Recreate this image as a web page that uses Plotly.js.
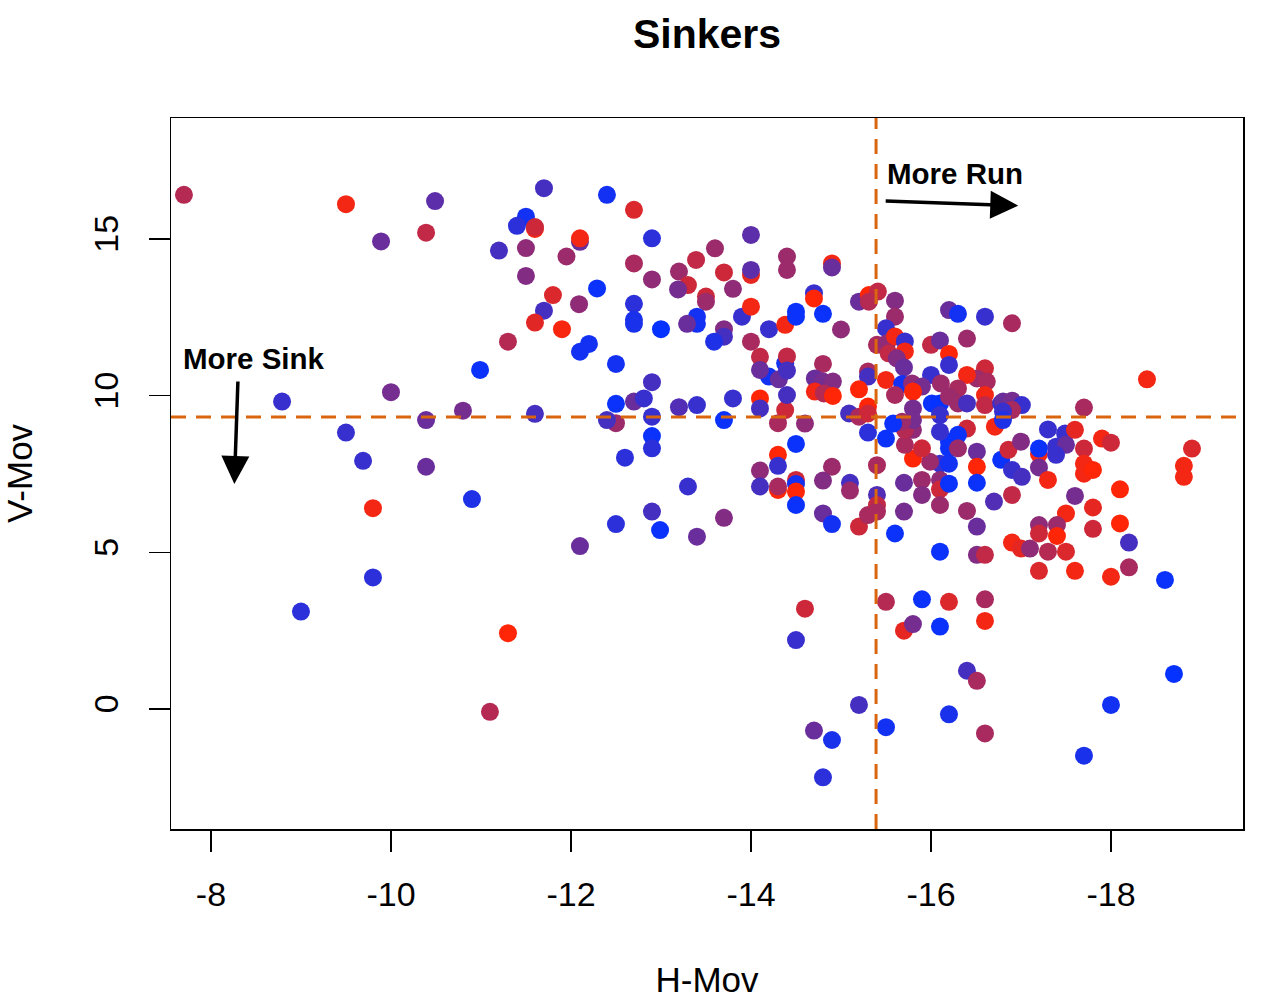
<!DOCTYPE html>
<html>
<head>
<meta charset="utf-8">
<script src="https://cdn.plot.ly/plotly-3.0.1.min.js"></script>
<style>
  html, body { margin: 0; padding: 0; background: #fff; }
  #chart { width: 1276px; height: 1004px; }
</style>
</head>
<body>
<div id="chart"></div>
<script>
// horizontal movement (in)
const hMov = [
  -7.70, -9.50, -10.49, -9.89, -10.39, -11.70, -11.50, -11.40, -11.60, -11.60,
  -11.20, -11.50, -11.95, -11.50, -11.80, -11.70, -11.60, -11.90, -11.30, -10.99,
  -8.79, -10.00, -9.50, -10.39, -10.80, -11.60, -9.69, -10.39, -9.80, -10.90,
  -9.80, -9.00, -11.30, -11.10,
  -12.40, -12.70, -12.10, -12.10, -12.90, -14.00, -13.60, -12.70, -13.39, -14.40,
  -14.40, -12.90, -13.20, -13.70, -14.00, -14.00, -13.30, -13.19, -13.80, -13.50,
  -13.50, -12.29, -12.09, -12.70, -12.70, -12.70, -13.00, -13.40, -13.40, -13.29,
  -13.90, -14.00, -14.20, -14.38, -13.70, -13.70, -13.59, -14.00, -14.10, -12.20,
  -12.10, -12.50, -12.90, -14.20, -14.10, -14.38, -14.31,
  -12.50, -12.70, -12.81, -12.50, -12.40, -12.90, -12.90, -12.90, -12.60, -13.20,
  -13.40, -13.80, -13.70, -14.10, -14.10, -14.30, -14.38, -14.30, -14.30, -14.10,
  -14.10, -14.30, -14.30, -13.30, -12.90, -12.99, -12.50, -12.10, -13.70, -13.40,
  -14.90, -14.90, -14.70, -14.70, -14.50, -14.50, -14.80, -15.00, -15.20, -15.31,
  -15.41, -15.31, -15.60, -15.60, -15.50, -15.40, -15.51, -15.60, -15.71, -15.71,
  -15.53, -15.62, -15.70, -16.20, -16.30, -16.60, -16.90, -16.40, -16.00, -16.10,
  -16.20, -16.20, -16.60, -16.51, -16.40, -16.62, -16.00, -16.11, -16.30, -14.40,
  -14.40, -14.80, -14.71, -14.80, -14.91, -14.71, -14.81, -14.91, -15.30, -15.30,
  -15.20, -15.50, -15.68, -15.79, -15.90, -15.80, -15.60, -14.40, -14.60, -15.09,
  -15.20, -15.30, -15.30, -15.80, -16.01, -16.10, -16.10, -16.20, -16.30, -16.40,
  -16.60, -16.60, -16.78, -16.86, -16.71, -16.40, -16.30, -16.20, -16.20, -16.30,
  -16.10, -16.51, -16.78, -16.86, -16.10, -16.20, -15.99, -16.51, -15.80, -15.90,
  -15.71, -15.80, -15.71, -15.80, -15.68, -15.58, -15.50, -15.30, -14.90, -14.50,
  -15.40,
  -14.50, -14.50, -14.50, -14.50, -14.80, -15.10, -15.10, -14.80, -14.90, -15.20,
  -15.30, -15.40, -15.40, -15.40, -15.60, -15.70, -15.70, -15.90, -15.90, -16.10,
  -16.10, -16.10, -16.20, -16.51, -16.40, -16.51, -16.70, -16.10, -16.51, -16.60,
  -14.60, -14.50, -15.50, -15.90, -16.20, -16.60, -16.60, -15.70, -15.80, -16.10,
  -16.40, -16.51,
  -18.40, -17.70, -16.80, -16.90, -17.01, -16.90, -16.80, -16.80, -17.30, -17.49,
  -17.60, -17.90, -18.00, -18.90, -17.00, -17.20, -17.20, -17.39, -17.50, -17.39,
  -17.70, -16.90, -17.01, -17.20, -17.30, -17.70, -17.70, -17.80, -18.81, -18.81,
  -18.10, -16.90, -17.60, -17.80, -17.50, -18.10, -17.20, -17.40, -17.80, -17.20,
  -17.40, -16.90, -17.00, -17.10, -17.30, -17.50, -18.20, -18.20, -17.20, -17.60,
  -18.00, -18.60, -18.70, -18.00, -17.70,
  -15.20, -14.70, -14.90, -14.80, -15.50, -16.20, -16.60
];

// vertical movement (in)
const vMov = [
  16.41, 16.11, 16.21, 14.92, 15.20, 16.62, 15.71, 15.42, 15.32, 15.38,
  14.63, 14.71, 14.44, 13.82, 13.21, 12.71, 12.33, 12.12, 11.72, 10.82,
  9.81, 10.11, 8.82, 9.22, 9.52, 9.42, 7.92, 7.73, 6.41, 6.70,
  4.20, 3.11, 2.42, -0.09,
  16.41, 15.93, 14.91, 15.02, 15.02, 15.13, 14.70, 14.22, 14.33, 14.44,
  14.01, 13.71, 13.96, 13.93, 13.85, 14.01, 13.53, 13.39, 13.41, 13.16,
  13.00, 13.42, 12.92, 12.93, 12.42, 12.29, 12.12, 12.52, 12.29, 12.29,
  12.52, 12.84, 12.12, 12.26, 12.12, 11.88, 11.72, 11.72, 11.24, 11.65,
  11.40, 11.01, 10.43, 10.61, 10.82, 11.03, 10.52,
  9.74, 9.81, 9.91, 9.12, 9.22, 9.33, 8.71, 8.32, 8.02, 9.63,
  9.70, 9.91, 9.22, 9.91, 9.59, 9.12, 9.54, 8.11, 7.76, 7.61,
  7.10, 6.99, 7.10, 7.10, 6.30, 5.71, 5.90, 5.20, 6.10, 5.50,
  14.22, 14.09, 13.27, 13.10, 12.68, 12.52, 12.61, 12.11, 13.00, 13.21,
  13.32, 13.00, 13.03, 12.52, 12.15, 11.62, 11.67, 11.89, 11.73, 11.41,
  11.35, 11.19, 10.90, 12.73, 12.61, 12.52, 12.31, 11.82, 11.62, 11.76,
  11.33, 10.98, 10.87, 10.55, 10.66, 10.45, 10.66, 10.39, 10.23, 11.25,
  10.80, 11.01, 10.55, 10.45, 10.45, 10.13, 10.07, 9.99, 10.77, 10.61,
  10.20, 10.50, 10.37, 10.39, 10.29, 10.13, 10.02, 10.02, 9.11, 9.43,
  9.33, 9.65, 9.43, 9.59, 9.75, 9.75, 9.38, 9.97, 9.75, 9.75,
  10.02, 9.70, 9.75, 9.54, 9.01, 8.95, 8.75, 8.53, 8.32, 8.32,
  8.85, 8.21, 7.95, 8.27, 7.83, 7.83, 7.89, 7.73, 7.99, 8.32,
  8.43, 8.91, 8.91, 9.22, 9.17, 9.11, 8.63, 8.82, 7.73, 8.46,
  7.78,
  7.31, 7.18, 6.94, 6.51, 7.29, 7.22, 6.97, 6.24, 5.90, 5.82,
  6.19, 6.83, 6.51, 6.30, 5.60, 7.22, 6.30, 7.31, 6.83, 7.31,
  7.01, 6.51, 7.19, 7.22, 6.32, 5.82, 6.62, 5.02, 4.92, 4.92,
  3.20, 2.20, 3.42, 3.50, 3.42, 3.50, 2.81, 2.50, 2.71, 2.63,
  1.22, 0.90,
  10.52, 9.62, 9.81, 9.84, 9.70, 9.54, 9.49, 9.22, 8.92, 8.79,
  8.91, 8.63, 8.50, 8.31, 8.53, 8.14, 8.31, 8.37, 8.43, 8.11,
  8.31, 7.63, 7.41, 7.71, 7.31, 7.83, 7.51, 7.63, 7.76, 7.41,
  7.01, 6.83, 6.80, 6.43, 6.24, 5.92, 5.87, 5.87, 5.75, 5.60,
  5.52, 5.31, 5.12, 5.12, 5.02, 5.02, 5.31, 4.52, 4.41, 4.41,
  4.22, 4.12, 1.12, 0.13, -1.49,
  0.13, -0.69, -0.99, -2.18, -0.58, -0.17, -0.78
];

// point colour on the blue (0) to red (1) ramp
const shade = [
  0.70, 0.95, 0.35, 0.40, 0.75, 0.25, 0.05, 0.15, 0.95, 0.80,
  0.25, 0.55, 0.60, 0.50, 0.85, 0.25, 0.88, 0.97, 0.70, 0.02,
  0.20, 0.45, 0.20, 0.40, 0.45, 0.25, 0.20, 0.40, 0.95, 0.10,
  0.15, 0.15, 1.00, 0.70,
  0.05, 0.85, 0.40, 0.95, 0.15, 0.35, 0.60, 0.65, 0.75, 0.60,
  0.60, 0.55, 0.60, 0.80, 0.90, 0.35, 0.80, 0.45, 0.55, 0.80,
  0.60, 0.02, 0.55, 0.15, 0.08, 0.08, 0.00, 0.05, 0.05, 0.40,
  0.20, 0.95, 0.20, 0.95, 0.50, 0.25, 0.10, 0.65, 0.75, 0.05,
  0.05, 0.05, 0.25, 0.05, 0.40, 0.05, 0.40,
  0.02, 0.40, 0.20, 0.60, 0.25, 0.20, 0.02, 0.15, 0.15, 0.30,
  0.20, 0.20, 0.02, 1.00, 0.25, 0.65, 0.80, 1.00, 0.20, 0.55,
  0.25, 1.00, 0.65, 0.20, 0.25, 0.02, 0.15, 0.40, 0.50, 0.40,
  0.95, 0.40, 0.20, 1.00, 0.02, 0.02, 0.02, 0.55, 0.40, 1.00,
  0.75, 0.70, 0.50, 0.60, 0.20, 0.65, 0.55, 0.95, 0.20, 0.95,
  0.75, 0.50, 0.40, 0.40, 0.05, 0.20, 0.65, 0.60, 0.75, 0.40,
  1.00, 0.20, 0.80, 0.60, 0.95, 0.65, 0.20, 0.60, 0.65, 0.75,
  0.25, 0.65, 0.40, 0.45, 0.50, 0.95, 0.70, 1.00, 0.65, 0.25,
  1.00, 0.95, 0.05, 0.55, 0.45, 1.00, 0.65, 0.25, 0.55, 0.25,
  0.65, 1.00, 0.80, 0.45, 0.02, 0.00, 0.20, 0.60, 0.60, 0.25,
  0.95, 0.75, 0.20, 0.45, 0.95, 0.80, 0.02, 0.02, 0.02, 0.60,
  0.20, 0.40, 0.02, 0.80, 0.20, 0.05, 0.60, 1.00, 1.00, 0.80,
  0.65, 0.55, 0.70, 0.45, 0.60, 0.02, 0.02, 0.15, 0.60, 0.02,
  0.65,
  0.80, 0.05, 1.00, 0.02, 0.50, 0.25, 0.60, 0.40, 0.05, 0.80,
  0.65, 0.30, 0.75, 0.65, 0.02, 0.40, 0.45, 0.60, 0.50, 0.55,
  0.80, 0.60, 0.02, 0.02, 0.60, 0.40, 0.30, 0.02, 0.50, 0.75,
  0.80, 0.20, 0.70, 0.02, 0.85, 0.65, 0.95, 0.90, 0.45, 0.02,
  0.25, 0.65,
  0.95, 0.65, 0.40, 0.45, 0.20, 0.65, 0.20, 0.10, 0.20, 0.20,
  0.90, 0.95, 0.80, 0.85, 0.50, 0.95, 0.02, 0.20, 0.40, 0.20,
  0.80, 0.20, 0.25, 0.45, 0.95, 0.95, 0.95, 1.00, 0.95, 0.95,
  1.00, 0.75, 0.45, 0.90, 0.95, 1.00, 0.55, 0.60, 0.80, 0.80,
  1.00, 0.95, 0.90, 0.55, 0.70, 0.85, 0.25, 0.65, 0.85, 0.95,
  0.95, 0.02, 0.00, 0.05, 0.08,
  0.25, 0.40, 0.08, 0.15, 0.05, 0.08, 0.65
];

// reference lines
const runLine = -15.39;
const sinkLine = 9.32;

// axis ticks
const xTicks = [-8, -10, -12, -14, -16, -18];
const yTicks = [0, 5, 10, 15];

// annotation anchors (data units)
const runLabel = {x: -15.49, y: 17.08, tailX: -15.48, tailY: 16.21, headX: -16.97, headY: 16.06};
const sinkLabel = {x: -7.67, y: 11.20, tailX: -8.30, tailY: 10.50, headX: -8.26, headY: 7.18};

const dashColor = '#d9660f';

const trace = {
    type: 'scatter',
    mode: 'markers',
    x: hMov,
    y: vMov,
    marker: {
        size: 18,
        color: shade,
        cmin: 0,
        cmax: 1,
        colorscale: [[0, '#0632ff'], [1, '#ff2608']],
        showscale: false,
        line: {width: 0}
    },
    hoverinfo: 'x+y'
};

const axisBase = {
    showgrid: false,
    zeroline: false,
    showline: true,
    mirror: true,
    linecolor: '#000',
    linewidth: 1.5,
    ticks: 'outside',
    ticklen: 21,
    tickwidth: 1.5,
    tickcolor: '#000',
    tickfont: {size: 34, color: '#000'}
};

const layout = {
    width: 1276,
    height: 1004,
    margin: {l: 171, r: 33, t: 118, b: 175},
    paper_bgcolor: '#fff',
    plot_bgcolor: '#fff',
    font: {family: 'Liberation Sans, Arial, sans-serif', color: '#000'},
    showlegend: false,
    title: {
        text: '<b>Sinkers</b>',
        font: {size: 41},
        x: 0.5, xref: 'paper',
        y: 1 - 34 / 1004, yref: 'container', yanchor: 'middle'
    },
    xaxis: Object.assign({}, axisBase, {
        range: [-7.556, -19.467],
        tickvals: xTicks,
        ticktext: xTicks.map(String),
        ticklabelstandoff: 14,
        title: {text: 'H-Mov', font: {size: 35}, standoff: 55}
    }),
    yaxis: Object.assign({}, axisBase, {
        range: [-3.83, 18.86],
        tickvals: yTicks,
        tickangle: -90,
        ticklabelstandoff: 17,
        title: {text: 'V-Mov', font: {size: 35}, standoff: 53}
    }),
    shapes: [
        {type: 'line', xref: 'x', yref: 'paper', x0: runLine, x1: runLine, y0: 0, y1: 1,
         line: {color: dashColor, width: 3, dash: '15px,10px'}},
        {type: 'line', xref: 'paper', yref: 'y', x0: 0, x1: 1, y0: sinkLine, y1: sinkLine,
         line: {color: dashColor, width: 3, dash: '15px,10px'}}
    ],
    annotations: [
        {x: runLabel.x, y: runLabel.y, xref: 'x', yref: 'y', text: '<b>More Run</b>',
         showarrow: false, xanchor: 'left', yanchor: 'middle', font: {size: 29.5}},
        {x: runLabel.headX, y: runLabel.headY, ax: runLabel.tailX, ay: runLabel.tailY,
         xref: 'x', yref: 'y', axref: 'x', ayref: 'y', text: '', showarrow: true,
         arrowhead: 2, arrowsize: 1.6, arrowwidth: 3.5, arrowcolor: '#000'},
        {x: sinkLabel.x, y: sinkLabel.y, xref: 'x', yref: 'y', text: '<b>More Sink</b>',
         showarrow: false, xanchor: 'left', yanchor: 'middle', font: {size: 29.5}},
        {x: sinkLabel.headX, y: sinkLabel.headY, ax: sinkLabel.tailX, ay: sinkLabel.tailY,
         xref: 'x', yref: 'y', axref: 'x', ayref: 'y', text: '', showarrow: true,
         arrowhead: 2, arrowsize: 1.6, arrowwidth: 3.5, arrowcolor: '#000'}
    ]
};

Plotly.newPlot('chart', [trace], layout, {staticPlot: true});
</script>
</body>
</html>
